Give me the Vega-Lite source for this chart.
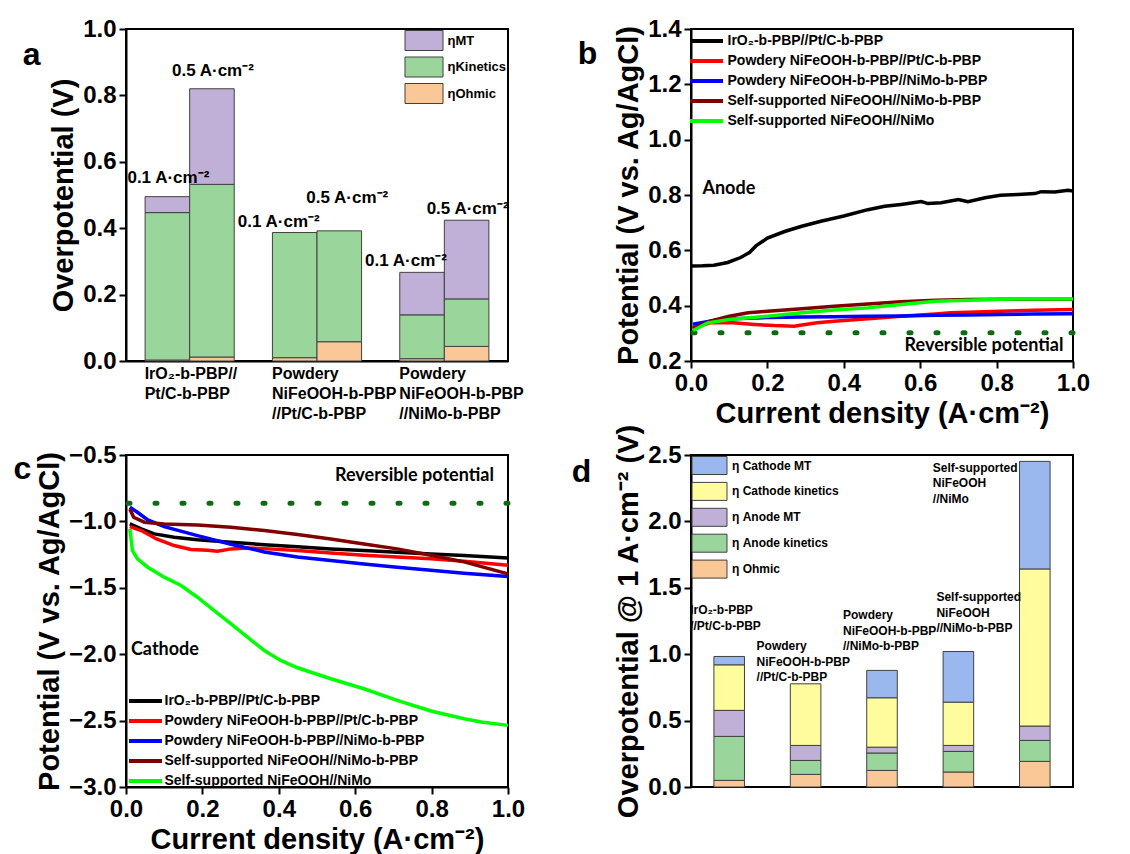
{
  "$schema": "https://vega.github.io/schema/vega-lite/v6.json",
  "background": "white",
  "padding": {"left": 12, "top": 16, "right": 5, "bottom": 0},
  "columns": 2,
  "spacing": {"row": -7, "column": 44},
  "resolve": {"scale": {"x": "independent", "y": "independent", "color": "independent", "xOffset": "independent"}, "legend": {"color": "independent"}},
  "config": {
    "font": "Liberation Sans",
    "view": {"stroke": "black", "strokeWidth": 2},
    "axis": {"grid": false, "domainColor": "black", "domainWidth": 2, "tickColor": "black", "tickWidth": 2, "labelFont": "Liberation Sans", "labelFontSize": 24, "labelFontWeight": "bold", "labelColor": "black", "labelFlush": false, "labelOverlap": false, "titleFont": "Liberation Sans", "titleFontSize": 29, "titleFontWeight": "bold", "titleColor": "black", "labelPadding": 3, "titlePadding": 4, "titleLimit": 1000, "labelLimit": 400},
    "legend": {"labelFont": "Liberation Sans", "labelFontWeight": "bold", "labelColor": "black", "labelLimit": 500},
    "title": {"font": "Liberation Sans", "fontSize": 32, "fontWeight": "bold", "color": "black", "anchor": "start", "frame": "bounds", "offset": 0}
  },
  "datasets": {
    "a": [
      {"g": "IrO₂-b-PBP//|Pt/C-b-PBP", "j": "0.1", "c": "ηOhmic", "k": 1, "v": 0.003},
      {"g": "IrO₂-b-PBP//|Pt/C-b-PBP", "j": "0.1", "c": "ηKinetics", "k": 2, "v": 0.444},
      {"g": "IrO₂-b-PBP//|Pt/C-b-PBP", "j": "0.1", "c": "ηMT", "k": 3, "v": 0.048},
      {"g": "IrO₂-b-PBP//|Pt/C-b-PBP", "j": "0.5", "c": "ηOhmic", "k": 1, "v": 0.012},
      {"g": "IrO₂-b-PBP//|Pt/C-b-PBP", "j": "0.5", "c": "ηKinetics", "k": 2, "v": 0.52},
      {"g": "IrO₂-b-PBP//|Pt/C-b-PBP", "j": "0.5", "c": "ηMT", "k": 3, "v": 0.288},
      {"g": "Powdery|NiFeOOH-b-PBP|//Pt/C-b-PBP", "j": "0.1", "c": "ηOhmic", "k": 1, "v": 0.01},
      {"g": "Powdery|NiFeOOH-b-PBP|//Pt/C-b-PBP", "j": "0.1", "c": "ηKinetics", "k": 2, "v": 0.377},
      {"g": "Powdery|NiFeOOH-b-PBP|//Pt/C-b-PBP", "j": "0.5", "c": "ηOhmic", "k": 1, "v": 0.058},
      {"g": "Powdery|NiFeOOH-b-PBP|//Pt/C-b-PBP", "j": "0.5", "c": "ηKinetics", "k": 2, "v": 0.334},
      {"g": "Powdery|NiFeOOH-b-PBP|//NiMo-b-PBP", "j": "0.1", "c": "ηOhmic", "k": 1, "v": 0.007},
      {"g": "Powdery|NiFeOOH-b-PBP|//NiMo-b-PBP", "j": "0.1", "c": "ηKinetics", "k": 2, "v": 0.132},
      {"g": "Powdery|NiFeOOH-b-PBP|//NiMo-b-PBP", "j": "0.1", "c": "ηMT", "k": 3, "v": 0.128},
      {"g": "Powdery|NiFeOOH-b-PBP|//NiMo-b-PBP", "j": "0.5", "c": "ηOhmic", "k": 1, "v": 0.044},
      {"g": "Powdery|NiFeOOH-b-PBP|//NiMo-b-PBP", "j": "0.5", "c": "ηKinetics", "k": 2, "v": 0.143},
      {"g": "Powdery|NiFeOOH-b-PBP|//NiMo-b-PBP", "j": "0.5", "c": "ηMT", "k": 3, "v": 0.237}
    ],
    "aLab": [
      {"g": "IrO₂-b-PBP//|Pt/C-b-PBP", "j": "0.1", "y": 0.552, "t": "0.1 A·cm⁻²"},
      {"g": "IrO₂-b-PBP//|Pt/C-b-PBP", "j": "0.5", "y": 0.873, "t": "0.5 A·cm⁻²"},
      {"g": "Powdery|NiFeOOH-b-PBP|//Pt/C-b-PBP", "j": "0.1", "y": 0.42, "t": "0.1 A·cm⁻²"},
      {"g": "Powdery|NiFeOOH-b-PBP|//Pt/C-b-PBP", "j": "0.5", "y": 0.491, "t": "0.5 A·cm⁻²"},
      {"g": "Powdery|NiFeOOH-b-PBP|//NiMo-b-PBP", "j": "0.1", "y": 0.301, "t": "0.1 A·cm⁻²"},
      {"g": "Powdery|NiFeOOH-b-PBP|//NiMo-b-PBP", "j": "0.5", "y": 0.458, "t": "0.5 A·cm⁻²"}
    ],
    "b": [
      {"s": "IrO₂-b-PBP//Pt/C-b-PBP", "x": 0.0, "y": 0.543},
      {"s": "IrO₂-b-PBP//Pt/C-b-PBP", "x": 0.03, "y": 0.544},
      {"s": "IrO₂-b-PBP//Pt/C-b-PBP", "x": 0.06, "y": 0.546},
      {"s": "IrO₂-b-PBP//Pt/C-b-PBP", "x": 0.096, "y": 0.556},
      {"s": "IrO₂-b-PBP//Pt/C-b-PBP", "x": 0.13, "y": 0.574},
      {"s": "IrO₂-b-PBP//Pt/C-b-PBP", "x": 0.153, "y": 0.592},
      {"s": "IrO₂-b-PBP//Pt/C-b-PBP", "x": 0.17, "y": 0.616},
      {"s": "IrO₂-b-PBP//Pt/C-b-PBP", "x": 0.2, "y": 0.644},
      {"s": "IrO₂-b-PBP//Pt/C-b-PBP", "x": 0.245, "y": 0.668},
      {"s": "IrO₂-b-PBP//Pt/C-b-PBP", "x": 0.29, "y": 0.687},
      {"s": "IrO₂-b-PBP//Pt/C-b-PBP", "x": 0.34, "y": 0.705},
      {"s": "IrO₂-b-PBP//Pt/C-b-PBP", "x": 0.4, "y": 0.724},
      {"s": "IrO₂-b-PBP//Pt/C-b-PBP", "x": 0.463, "y": 0.747},
      {"s": "IrO₂-b-PBP//Pt/C-b-PBP", "x": 0.507, "y": 0.759},
      {"s": "IrO₂-b-PBP//Pt/C-b-PBP", "x": 0.55, "y": 0.766},
      {"s": "IrO₂-b-PBP//Pt/C-b-PBP", "x": 0.603, "y": 0.776},
      {"s": "IrO₂-b-PBP//Pt/C-b-PBP", "x": 0.62, "y": 0.769},
      {"s": "IrO₂-b-PBP//Pt/C-b-PBP", "x": 0.655, "y": 0.772},
      {"s": "IrO₂-b-PBP//Pt/C-b-PBP", "x": 0.7, "y": 0.784},
      {"s": "IrO₂-b-PBP//Pt/C-b-PBP", "x": 0.725, "y": 0.776},
      {"s": "IrO₂-b-PBP//Pt/C-b-PBP", "x": 0.77, "y": 0.79},
      {"s": "IrO₂-b-PBP//Pt/C-b-PBP", "x": 0.81, "y": 0.799},
      {"s": "IrO₂-b-PBP//Pt/C-b-PBP", "x": 0.856, "y": 0.802},
      {"s": "IrO₂-b-PBP//Pt/C-b-PBP", "x": 0.9, "y": 0.805},
      {"s": "IrO₂-b-PBP//Pt/C-b-PBP", "x": 0.917, "y": 0.812},
      {"s": "IrO₂-b-PBP//Pt/C-b-PBP", "x": 0.952, "y": 0.811},
      {"s": "IrO₂-b-PBP//Pt/C-b-PBP", "x": 0.987, "y": 0.817},
      {"s": "IrO₂-b-PBP//Pt/C-b-PBP", "x": 1.0, "y": 0.814},
      {"s": "Powdery NiFeOOH-b-PBP//Pt/C-b-PBP", "x": 0.005, "y": 0.318},
      {"s": "Powdery NiFeOOH-b-PBP//Pt/C-b-PBP", "x": 0.05, "y": 0.338},
      {"s": "Powdery NiFeOOH-b-PBP//Pt/C-b-PBP", "x": 0.11, "y": 0.338},
      {"s": "Powdery NiFeOOH-b-PBP//Pt/C-b-PBP", "x": 0.166, "y": 0.332},
      {"s": "Powdery NiFeOOH-b-PBP//Pt/C-b-PBP", "x": 0.218, "y": 0.328},
      {"s": "Powdery NiFeOOH-b-PBP//Pt/C-b-PBP", "x": 0.27, "y": 0.326},
      {"s": "Powdery NiFeOOH-b-PBP//Pt/C-b-PBP", "x": 0.29, "y": 0.33},
      {"s": "Powdery NiFeOOH-b-PBP//Pt/C-b-PBP", "x": 0.33, "y": 0.338},
      {"s": "Powdery NiFeOOH-b-PBP//Pt/C-b-PBP", "x": 0.375, "y": 0.344},
      {"s": "Powdery NiFeOOH-b-PBP//Pt/C-b-PBP", "x": 0.463, "y": 0.353},
      {"s": "Powdery NiFeOOH-b-PBP//Pt/C-b-PBP", "x": 0.55, "y": 0.362},
      {"s": "Powdery NiFeOOH-b-PBP//Pt/C-b-PBP", "x": 0.64, "y": 0.37},
      {"s": "Powdery NiFeOOH-b-PBP//Pt/C-b-PBP", "x": 0.68, "y": 0.374},
      {"s": "Powdery NiFeOOH-b-PBP//Pt/C-b-PBP", "x": 0.725, "y": 0.376},
      {"s": "Powdery NiFeOOH-b-PBP//Pt/C-b-PBP", "x": 0.81, "y": 0.38},
      {"s": "Powdery NiFeOOH-b-PBP//Pt/C-b-PBP", "x": 0.9, "y": 0.383},
      {"s": "Powdery NiFeOOH-b-PBP//Pt/C-b-PBP", "x": 1.0, "y": 0.386},
      {"s": "Powdery NiFeOOH-b-PBP//NiMo-b-PBP", "x": 0.005, "y": 0.333},
      {"s": "Powdery NiFeOOH-b-PBP//NiMo-b-PBP", "x": 0.06, "y": 0.346},
      {"s": "Powdery NiFeOOH-b-PBP//NiMo-b-PBP", "x": 0.11, "y": 0.353},
      {"s": "Powdery NiFeOOH-b-PBP//NiMo-b-PBP", "x": 0.2, "y": 0.357},
      {"s": "Powdery NiFeOOH-b-PBP//NiMo-b-PBP", "x": 0.29, "y": 0.359},
      {"s": "Powdery NiFeOOH-b-PBP//NiMo-b-PBP", "x": 0.375, "y": 0.36},
      {"s": "Powdery NiFeOOH-b-PBP//NiMo-b-PBP", "x": 0.463, "y": 0.362},
      {"s": "Powdery NiFeOOH-b-PBP//NiMo-b-PBP", "x": 0.55, "y": 0.363},
      {"s": "Powdery NiFeOOH-b-PBP//NiMo-b-PBP", "x": 0.64, "y": 0.365},
      {"s": "Powdery NiFeOOH-b-PBP//NiMo-b-PBP", "x": 0.725, "y": 0.366},
      {"s": "Powdery NiFeOOH-b-PBP//NiMo-b-PBP", "x": 0.81, "y": 0.368},
      {"s": "Powdery NiFeOOH-b-PBP//NiMo-b-PBP", "x": 0.9, "y": 0.37},
      {"s": "Powdery NiFeOOH-b-PBP//NiMo-b-PBP", "x": 1.0, "y": 0.371},
      {"s": "Self-supported NiFeOOH//NiMo-b-PBP", "x": 0.005, "y": 0.318},
      {"s": "Self-supported NiFeOOH//NiMo-b-PBP", "x": 0.05, "y": 0.344},
      {"s": "Self-supported NiFeOOH//NiMo-b-PBP", "x": 0.1, "y": 0.362},
      {"s": "Self-supported NiFeOOH//NiMo-b-PBP", "x": 0.15, "y": 0.374},
      {"s": "Self-supported NiFeOOH//NiMo-b-PBP", "x": 0.2, "y": 0.38},
      {"s": "Self-supported NiFeOOH//NiMo-b-PBP", "x": 0.29, "y": 0.389},
      {"s": "Self-supported NiFeOOH//NiMo-b-PBP", "x": 0.375, "y": 0.398},
      {"s": "Self-supported NiFeOOH//NiMo-b-PBP", "x": 0.463, "y": 0.406},
      {"s": "Self-supported NiFeOOH//NiMo-b-PBP", "x": 0.55, "y": 0.414},
      {"s": "Self-supported NiFeOOH//NiMo-b-PBP", "x": 0.64, "y": 0.42},
      {"s": "Self-supported NiFeOOH//NiMo-b-PBP", "x": 0.725, "y": 0.422},
      {"s": "Self-supported NiFeOOH//NiMo-b-PBP", "x": 0.81, "y": 0.423},
      {"s": "Self-supported NiFeOOH//NiMo-b-PBP", "x": 0.9, "y": 0.423},
      {"s": "Self-supported NiFeOOH//NiMo-b-PBP", "x": 1.0, "y": 0.423},
      {"s": "Self-supported NiFeOOH//NiMo", "x": 0.005, "y": 0.31},
      {"s": "Self-supported NiFeOOH//NiMo", "x": 0.044, "y": 0.338},
      {"s": "Self-supported NiFeOOH//NiMo", "x": 0.1, "y": 0.35},
      {"s": "Self-supported NiFeOOH//NiMo", "x": 0.2, "y": 0.362},
      {"s": "Self-supported NiFeOOH//NiMo", "x": 0.29, "y": 0.374},
      {"s": "Self-supported NiFeOOH//NiMo", "x": 0.375, "y": 0.384},
      {"s": "Self-supported NiFeOOH//NiMo", "x": 0.463, "y": 0.392},
      {"s": "Self-supported NiFeOOH//NiMo", "x": 0.55, "y": 0.404},
      {"s": "Self-supported NiFeOOH//NiMo", "x": 0.64, "y": 0.416},
      {"s": "Self-supported NiFeOOH//NiMo", "x": 0.725, "y": 0.42},
      {"s": "Self-supported NiFeOOH//NiMo", "x": 0.81, "y": 0.423},
      {"s": "Self-supported NiFeOOH//NiMo", "x": 0.9, "y": 0.425},
      {"s": "Self-supported NiFeOOH//NiMo", "x": 1.0, "y": 0.424}
    ],
    "c": [
      {"s": "IrO₂-b-PBP//Pt/C-b-PBP", "x": 0.01, "y": -1.019},
      {"s": "IrO₂-b-PBP//Pt/C-b-PBP", "x": 0.04, "y": -1.057},
      {"s": "IrO₂-b-PBP//Pt/C-b-PBP", "x": 0.074, "y": -1.094},
      {"s": "IrO₂-b-PBP//Pt/C-b-PBP", "x": 0.126, "y": -1.119},
      {"s": "IrO₂-b-PBP//Pt/C-b-PBP", "x": 0.187, "y": -1.139},
      {"s": "IrO₂-b-PBP//Pt/C-b-PBP", "x": 0.275, "y": -1.157},
      {"s": "IrO₂-b-PBP//Pt/C-b-PBP", "x": 0.362, "y": -1.175},
      {"s": "IrO₂-b-PBP//Pt/C-b-PBP", "x": 0.449, "y": -1.19},
      {"s": "IrO₂-b-PBP//Pt/C-b-PBP", "x": 0.536, "y": -1.207},
      {"s": "IrO₂-b-PBP//Pt/C-b-PBP", "x": 0.623, "y": -1.22},
      {"s": "IrO₂-b-PBP//Pt/C-b-PBP", "x": 0.71, "y": -1.232},
      {"s": "IrO₂-b-PBP//Pt/C-b-PBP", "x": 0.798, "y": -1.245},
      {"s": "IrO₂-b-PBP//Pt/C-b-PBP", "x": 0.885, "y": -1.257},
      {"s": "IrO₂-b-PBP//Pt/C-b-PBP", "x": 1.0, "y": -1.275},
      {"s": "Powdery NiFeOOH-b-PBP//Pt/C-b-PBP", "x": 0.01, "y": -1.04},
      {"s": "Powdery NiFeOOH-b-PBP//Pt/C-b-PBP", "x": 0.04, "y": -1.069},
      {"s": "Powdery NiFeOOH-b-PBP//Pt/C-b-PBP", "x": 0.08, "y": -1.132},
      {"s": "Powdery NiFeOOH-b-PBP//Pt/C-b-PBP", "x": 0.126, "y": -1.182},
      {"s": "Powdery NiFeOOH-b-PBP//Pt/C-b-PBP", "x": 0.17, "y": -1.212},
      {"s": "Powdery NiFeOOH-b-PBP//Pt/C-b-PBP", "x": 0.214, "y": -1.218},
      {"s": "Powdery NiFeOOH-b-PBP//Pt/C-b-PBP", "x": 0.24, "y": -1.225},
      {"s": "Powdery NiFeOOH-b-PBP//Pt/C-b-PBP", "x": 0.275, "y": -1.207},
      {"s": "Powdery NiFeOOH-b-PBP//Pt/C-b-PBP", "x": 0.318, "y": -1.2},
      {"s": "Powdery NiFeOOH-b-PBP//Pt/C-b-PBP", "x": 0.362, "y": -1.205},
      {"s": "Powdery NiFeOOH-b-PBP//Pt/C-b-PBP", "x": 0.449, "y": -1.22},
      {"s": "Powdery NiFeOOH-b-PBP//Pt/C-b-PBP", "x": 0.536, "y": -1.238},
      {"s": "Powdery NiFeOOH-b-PBP//Pt/C-b-PBP", "x": 0.623, "y": -1.255},
      {"s": "Powdery NiFeOOH-b-PBP//Pt/C-b-PBP", "x": 0.71, "y": -1.268},
      {"s": "Powdery NiFeOOH-b-PBP//Pt/C-b-PBP", "x": 0.798, "y": -1.282},
      {"s": "Powdery NiFeOOH-b-PBP//Pt/C-b-PBP", "x": 0.885, "y": -1.3},
      {"s": "Powdery NiFeOOH-b-PBP//Pt/C-b-PBP", "x": 1.0, "y": -1.33},
      {"s": "Powdery NiFeOOH-b-PBP//NiMo-b-PBP", "x": 0.01, "y": -0.894},
      {"s": "Powdery NiFeOOH-b-PBP//NiMo-b-PBP", "x": 0.03, "y": -0.931},
      {"s": "Powdery NiFeOOH-b-PBP//NiMo-b-PBP", "x": 0.057, "y": -0.989},
      {"s": "Powdery NiFeOOH-b-PBP//NiMo-b-PBP", "x": 0.1, "y": -1.039},
      {"s": "Powdery NiFeOOH-b-PBP//NiMo-b-PBP", "x": 0.187, "y": -1.107},
      {"s": "Powdery NiFeOOH-b-PBP//NiMo-b-PBP", "x": 0.275, "y": -1.172},
      {"s": "Powdery NiFeOOH-b-PBP//NiMo-b-PBP", "x": 0.362, "y": -1.23},
      {"s": "Powdery NiFeOOH-b-PBP//NiMo-b-PBP", "x": 0.449, "y": -1.268},
      {"s": "Powdery NiFeOOH-b-PBP//NiMo-b-PBP", "x": 0.536, "y": -1.295},
      {"s": "Powdery NiFeOOH-b-PBP//NiMo-b-PBP", "x": 0.623, "y": -1.32},
      {"s": "Powdery NiFeOOH-b-PBP//NiMo-b-PBP", "x": 0.71, "y": -1.345},
      {"s": "Powdery NiFeOOH-b-PBP//NiMo-b-PBP", "x": 0.798, "y": -1.368},
      {"s": "Powdery NiFeOOH-b-PBP//NiMo-b-PBP", "x": 0.885, "y": -1.39},
      {"s": "Powdery NiFeOOH-b-PBP//NiMo-b-PBP", "x": 1.0, "y": -1.415},
      {"s": "Self-supported NiFeOOH//NiMo-b-PBP", "x": 0.01, "y": -0.906},
      {"s": "Self-supported NiFeOOH//NiMo-b-PBP", "x": 0.02, "y": -0.969},
      {"s": "Self-supported NiFeOOH//NiMo-b-PBP", "x": 0.048, "y": -1.006},
      {"s": "Self-supported NiFeOOH//NiMo-b-PBP", "x": 0.1, "y": -1.019},
      {"s": "Self-supported NiFeOOH//NiMo-b-PBP", "x": 0.187, "y": -1.027},
      {"s": "Self-supported NiFeOOH//NiMo-b-PBP", "x": 0.275, "y": -1.044},
      {"s": "Self-supported NiFeOOH//NiMo-b-PBP", "x": 0.362, "y": -1.069},
      {"s": "Self-supported NiFeOOH//NiMo-b-PBP", "x": 0.449, "y": -1.099},
      {"s": "Self-supported NiFeOOH//NiMo-b-PBP", "x": 0.536, "y": -1.132},
      {"s": "Self-supported NiFeOOH//NiMo-b-PBP", "x": 0.623, "y": -1.17},
      {"s": "Self-supported NiFeOOH//NiMo-b-PBP", "x": 0.71, "y": -1.207},
      {"s": "Self-supported NiFeOOH//NiMo-b-PBP", "x": 0.798, "y": -1.255},
      {"s": "Self-supported NiFeOOH//NiMo-b-PBP", "x": 0.885, "y": -1.305},
      {"s": "Self-supported NiFeOOH//NiMo-b-PBP", "x": 1.0, "y": -1.395},
      {"s": "Self-supported NiFeOOH//NiMo", "x": 0.01, "y": -1.057},
      {"s": "Self-supported NiFeOOH//NiMo", "x": 0.017, "y": -1.22},
      {"s": "Self-supported NiFeOOH//NiMo", "x": 0.03, "y": -1.282},
      {"s": "Self-supported NiFeOOH//NiMo", "x": 0.057, "y": -1.345},
      {"s": "Self-supported NiFeOOH//NiMo", "x": 0.1, "y": -1.42},
      {"s": "Self-supported NiFeOOH//NiMo", "x": 0.144, "y": -1.483},
      {"s": "Self-supported NiFeOOH//NiMo", "x": 0.187, "y": -1.571},
      {"s": "Self-supported NiFeOOH//NiMo", "x": 0.231, "y": -1.671},
      {"s": "Self-supported NiFeOOH//NiMo", "x": 0.275, "y": -1.771},
      {"s": "Self-supported NiFeOOH//NiMo", "x": 0.318, "y": -1.872},
      {"s": "Self-supported NiFeOOH//NiMo", "x": 0.362, "y": -1.972},
      {"s": "Self-supported NiFeOOH//NiMo", "x": 0.405, "y": -2.047},
      {"s": "Self-supported NiFeOOH//NiMo", "x": 0.449, "y": -2.102},
      {"s": "Self-supported NiFeOOH//NiMo", "x": 0.536, "y": -2.185},
      {"s": "Self-supported NiFeOOH//NiMo", "x": 0.623, "y": -2.26},
      {"s": "Self-supported NiFeOOH//NiMo", "x": 0.71, "y": -2.348},
      {"s": "Self-supported NiFeOOH//NiMo", "x": 0.798, "y": -2.428},
      {"s": "Self-supported NiFeOOH//NiMo", "x": 0.885, "y": -2.486},
      {"s": "Self-supported NiFeOOH//NiMo", "x": 0.93, "y": -2.511},
      {"s": "Self-supported NiFeOOH//NiMo", "x": 1.0, "y": -2.536}
    ],
    "d": [
      {"cat": "IrO₂-b-PBP|//Pt/C-b-PBP", "c": "η Ohmic", "k": 1, "v": 0.05},
      {"cat": "IrO₂-b-PBP|//Pt/C-b-PBP", "c": "η Anode kinetics", "k": 2, "v": 0.331},
      {"cat": "IrO₂-b-PBP|//Pt/C-b-PBP", "c": "η Anode MT", "k": 3, "v": 0.196},
      {"cat": "IrO₂-b-PBP|//Pt/C-b-PBP", "c": "η Cathode kinetics", "k": 4, "v": 0.343},
      {"cat": "IrO₂-b-PBP|//Pt/C-b-PBP", "c": "η Cathode MT", "k": 5, "v": 0.063},
      {"cat": "Powdery|NiFeOOH-b-PBP|//Pt/C-b-PBP", "c": "η Ohmic", "k": 1, "v": 0.095},
      {"cat": "Powdery|NiFeOOH-b-PBP|//Pt/C-b-PBP", "c": "η Anode kinetics", "k": 2, "v": 0.105},
      {"cat": "Powdery|NiFeOOH-b-PBP|//Pt/C-b-PBP", "c": "η Anode MT", "k": 3, "v": 0.113},
      {"cat": "Powdery|NiFeOOH-b-PBP|//Pt/C-b-PBP", "c": "η Cathode kinetics", "k": 4, "v": 0.464},
      {"cat": "Powdery|NiFeOOH-b-PBP|//NiMo-b-PBP", "c": "η Ohmic", "k": 1, "v": 0.125},
      {"cat": "Powdery|NiFeOOH-b-PBP|//NiMo-b-PBP", "c": "η Anode kinetics", "k": 2, "v": 0.131},
      {"cat": "Powdery|NiFeOOH-b-PBP|//NiMo-b-PBP", "c": "η Anode MT", "k": 3, "v": 0.044},
      {"cat": "Powdery|NiFeOOH-b-PBP|//NiMo-b-PBP", "c": "η Cathode kinetics", "k": 4, "v": 0.372},
      {"cat": "Powdery|NiFeOOH-b-PBP|//NiMo-b-PBP", "c": "η Cathode MT", "k": 5, "v": 0.206},
      {"cat": "Self-supported|NiFeOOH|//NiMo-b-PBP", "c": "η Ohmic", "k": 1, "v": 0.113},
      {"cat": "Self-supported|NiFeOOH|//NiMo-b-PBP", "c": "η Anode kinetics", "k": 2, "v": 0.155},
      {"cat": "Self-supported|NiFeOOH|//NiMo-b-PBP", "c": "η Anode MT", "k": 3, "v": 0.045},
      {"cat": "Self-supported|NiFeOOH|//NiMo-b-PBP", "c": "η Cathode kinetics", "k": 4, "v": 0.326},
      {"cat": "Self-supported|NiFeOOH|//NiMo-b-PBP", "c": "η Cathode MT", "k": 5, "v": 0.381},
      {"cat": "Self-supported|NiFeOOH|//NiMo", "c": "η Ohmic", "k": 1, "v": 0.193},
      {"cat": "Self-supported|NiFeOOH|//NiMo", "c": "η Anode kinetics", "k": 2, "v": 0.158},
      {"cat": "Self-supported|NiFeOOH|//NiMo", "c": "η Anode MT", "k": 3, "v": 0.108},
      {"cat": "Self-supported|NiFeOOH|//NiMo", "c": "η Cathode kinetics", "k": 4, "v": 1.183},
      {"cat": "Self-supported|NiFeOOH|//NiMo", "c": "η Cathode MT", "k": 5, "v": 0.81}
    ],
    "dLab": [
      {"cat": "IrO₂-b-PBP|//Pt/C-b-PBP", "y": 1.367},
      {"cat": "Powdery|NiFeOOH-b-PBP|//Pt/C-b-PBP", "y": 1.099},
      {"cat": "Powdery|NiFeOOH-b-PBP|//NiMo-b-PBP", "y": 1.33},
      {"cat": "Self-supported|NiFeOOH|//NiMo-b-PBP", "y": 1.467},
      {"cat": "Self-supported|NiFeOOH|//NiMo", "y": 2.441}
    ]
  },
  "concat": [
    {
      "width": 382, "height": 332,
      "title": {"text": "a", "dx": -27, "dy": 59},
      "layer": [
        {
          "data": {"name": "a"},
          "mark": {"type": "bar", "stroke": "#404040", "strokeWidth": 1},
          "encoding": {
            "x": {"field": "g", "type": "nominal", "sort": null, "title": null,
                  "scale": {"paddingInner": 0.3, "paddingOuter": 0.15},
                  "axis": {"labelExpr": "split(datum.label, '|')", "labelAlign": "left", "labelOffset": -45, "labelBaseline": "top", "labelFontSize": 16, "labelLineHeight": 20, "labelAngle": 0, "ticks": false, "labelPadding": 4}},
            "xOffset": {"field": "j", "type": "nominal", "scale": {"paddingInner": 0, "paddingOuter": 0}},
            "y": {"field": "v", "type": "quantitative", "stack": "zero", "scale": {"domain": [0, 1], "nice": false},
                  "axis": {"title": "Overpotential (V)", "values": [0, 0.1, 0.2, 0.3, 0.4, 0.5, 0.6, 0.7, 0.8, 0.9, 1.0], "format": ".1f",
                           "labelExpr": "abs(datum.value*5-round(datum.value*5))<1e-6 ? datum.label : ''",
                           "tickSize": {"condition": {"test": "abs(datum.value*5-round(datum.value*5))<1e-6", "value": 7}, "value": 4}}},
            "color": {"field": "c", "type": "nominal",
                      "scale": {"domain": ["ηMT", "ηKinetics", "ηOhmic"], "range": ["#C0AFD6", "#9AD69B", "#FAC796"]},
                      "legend": {"title": null, "orient": "top-right", "offset": 1, "symbolType": "M-1.9,-1H1.9V1H-1.9Z", "symbolSize": 400, "symbolOffset": 8.5, "symbolStrokeColor": "#404040", "symbolStrokeWidth": 1, "labelFontSize": 13, "labelOffset": 13, "rowPadding": 1.5}},
            "order": {"field": "k", "type": "quantitative"}
          }
        },
        {
          "data": {"name": "aLab"},
          "transform": [{"filter": "datum.g[0]=='I' || (datum.j=='0.5' && indexof(datum.g,'NiMo')>=0)"}],
          "mark": {"type": "text", "fontSize": 17, "fontWeight": "bold", "color": "black", "baseline": "middle", "dx": 1},
          "encoding": {
            "x": {"field": "g", "type": "nominal", "sort": null},
            "xOffset": {"field": "j", "type": "nominal"},
            "y": {"field": "y", "type": "quantitative"},
            "text": {"field": "t"}
          }
        },
        {
          "data": {"name": "aLab"},
          "transform": [{"filter": "datum.j=='0.1' && datum.g[0]=='P'"}],
          "mark": {"type": "text", "fontSize": 17, "fontWeight": "bold", "color": "black", "baseline": "middle", "dx": -16},
          "encoding": {
            "x": {"field": "g", "type": "nominal", "sort": null},
            "xOffset": {"field": "j", "type": "nominal"},
            "y": {"field": "y", "type": "quantitative"},
            "text": {"field": "t"}
          }
        },
        {
          "data": {"name": "aLab"},
          "transform": [{"filter": "datum.j=='0.5' && datum.g=='Powdery|NiFeOOH-b-PBP|//Pt/C-b-PBP'"}],
          "mark": {"type": "text", "fontSize": 17, "fontWeight": "bold", "color": "black", "baseline": "middle", "dx": 8},
          "encoding": {
            "x": {"field": "g", "type": "nominal", "sort": null},
            "xOffset": {"field": "j", "type": "nominal"},
            "y": {"field": "y", "type": "quantitative"},
            "text": {"field": "t"}
          }
        }
      ]
    },
    {
      "width": 382, "height": 332,
      "title": {"text": "b", "dx": -37, "dy": 58},
      "layer": [
        {
          "data": {"values": [{"y": 0.302}]},
          "mark": {"type": "rule", "color": "#0F6B12", "strokeWidth": 5, "strokeDash": [2, 25], "strokeCap": "round"},
          "encoding": {"y": {"field": "y", "type": "quantitative"}}
        },
        {
          "data": {"name": "b"},
          "mark": {"type": "line", "strokeWidth": 3.5},
          "encoding": {
            "x": {"field": "x", "type": "quantitative", "scale": {"domain": [0, 1], "nice": false},
                  "axis": {"title": "Current density (A·cm⁻²)", "values": [0, 0.1, 0.2, 0.3, 0.4, 0.5, 0.6, 0.7, 0.8, 0.9, 1.0], "format": ".1f",
                           "labelExpr": "abs(datum.value*5-round(datum.value*5))<1e-6 ? datum.label : ''",
                           "tickSize": {"condition": {"test": "abs(datum.value*5-round(datum.value*5))<1e-6", "value": 7}, "value": 4}}},
            "y": {"field": "y", "type": "quantitative", "scale": {"domain": [0.2, 1.4], "nice": false, "zero": false},
                  "axis": {"title": "Potential (V vs. Ag/AgCl)", "values": [0.2, 0.3, 0.4, 0.5, 0.6, 0.7, 0.8, 0.9, 1.0, 1.1, 1.2, 1.3, 1.4], "format": ".1f",
                           "labelExpr": "abs(datum.value*5-round(datum.value*5))<1e-6 ? datum.label : ''",
                           "tickSize": {"condition": {"test": "abs(datum.value*5-round(datum.value*5))<1e-6", "value": 7}, "value": 4}}},
            "color": {"field": "s", "type": "nominal",
                      "scale": {"domain": ["IrO₂-b-PBP//Pt/C-b-PBP", "Powdery NiFeOOH-b-PBP//Pt/C-b-PBP", "Powdery NiFeOOH-b-PBP//NiMo-b-PBP", "Self-supported NiFeOOH//NiMo-b-PBP", "Self-supported NiFeOOH//NiMo"],
                                "range": ["#000000", "#FF0000", "#0000FF", "#800000", "#00FF00"]},
                      "legend": {"title": null, "orient": "top-left", "offset": 0, "symbolType": "M-1.65,0H1.65", "symbolSize": 400, "symbolOffset": 3.5, "symbolStrokeWidth": 4, "labelFontSize": 14, "labelOffset": 9, "rowPadding": -5}}
          }
        },
        {
          "data": {"values": [{"x": 0.03, "y": 0.82, "t": "Anode"}]},
          "mark": {"type": "text", "font": "Lato", "fontWeight": "bold", "fontSize": 18, "align": "left", "baseline": "middle", "color": "black"},
          "encoding": {"x": {"field": "x", "type": "quantitative"}, "y": {"field": "y", "type": "quantitative"}, "text": {"field": "t"}}
        },
        {
          "data": {"values": [{"x": 0.975, "y": 0.255, "t": "Reversible potential"}]},
          "mark": {"type": "text", "font": "Lato", "fontWeight": "bold", "fontSize": 18, "align": "right", "baseline": "middle", "color": "black"},
          "encoding": {"x": {"field": "x", "type": "quantitative"}, "y": {"field": "y", "type": "quantitative"}, "text": {"field": "t"}}
        }
      ]
    },
    {
      "width": 382, "height": 332,
      "title": {"text": "c", "dx": -22, "dy": 47},
      "layer": [
        {
          "data": {"values": [{"y": -0.864}]},
          "mark": {"type": "rule", "color": "#0F6B12", "strokeWidth": 5, "strokeDash": [2, 25], "strokeCap": "round"},
          "encoding": {"y": {"field": "y", "type": "quantitative"}}
        },
        {
          "data": {"name": "c"},
          "mark": {"type": "line", "strokeWidth": 3.5},
          "encoding": {
            "x": {"field": "x", "type": "quantitative", "scale": {"domain": [0, 1], "nice": false},
                  "axis": {"title": "Current density (A·cm⁻²)", "values": [0, 0.1, 0.2, 0.3, 0.4, 0.5, 0.6, 0.7, 0.8, 0.9, 1.0], "format": ".1f",
                           "labelExpr": "abs(datum.value*5-round(datum.value*5))<1e-6 ? datum.label : ''",
                           "tickSize": {"condition": {"test": "abs(datum.value*5-round(datum.value*5))<1e-6", "value": 7}, "value": 4}}},
            "y": {"field": "y", "type": "quantitative", "scale": {"domain": [-3, -0.5], "nice": false, "zero": false},
                  "axis": {"title": "Potential (V vs. Ag/AgCl)", "values": [-3, -2.75, -2.5, -2.25, -2, -1.75, -1.5, -1.25, -1, -0.75, -0.5], "format": ".1f",
                           "labelExpr": "abs(datum.value*2-round(datum.value*2))<1e-6 ? datum.label : ''",
                           "tickSize": {"condition": {"test": "abs(datum.value*2-round(datum.value*2))<1e-6", "value": 7}, "value": 4}}},
            "color": {"field": "s", "type": "nominal",
                      "scale": {"domain": ["IrO₂-b-PBP//Pt/C-b-PBP", "Powdery NiFeOOH-b-PBP//Pt/C-b-PBP", "Powdery NiFeOOH-b-PBP//NiMo-b-PBP", "Self-supported NiFeOOH//NiMo-b-PBP", "Self-supported NiFeOOH//NiMo"],
                                "range": ["#000000", "#FF0000", "#0000FF", "#800000", "#00FF00"]},
                      "legend": {"title": null, "orient": "bottom-left", "offset": -2, "symbolType": "M-1.65,0H1.65", "symbolSize": 400, "symbolOffset": 9.5, "symbolStrokeWidth": 4, "labelFontSize": 14, "labelOffset": 7, "rowPadding": -5}}
          }
        },
        {
          "data": {"values": [{"x": 0.013, "y": -1.97, "t": "Cathode"}]},
          "mark": {"type": "text", "font": "Lato", "fontWeight": "bold", "fontSize": 18, "align": "left", "baseline": "middle", "color": "black"},
          "encoding": {"x": {"field": "x", "type": "quantitative"}, "y": {"field": "y", "type": "quantitative"}, "text": {"field": "t"}}
        },
        {
          "data": {"values": [{"x": 0.963, "y": -0.655, "t": "Reversible potential"}]},
          "mark": {"type": "text", "font": "Lato", "fontWeight": "bold", "fontSize": 18, "align": "right", "baseline": "middle", "color": "black"},
          "encoding": {"x": {"field": "x", "type": "quantitative"}, "y": {"field": "y", "type": "quantitative"}, "text": {"field": "t"}}
        }
      ]
    },
    {
      "width": 382, "height": 332,
      "title": {"text": "d", "dx": -43, "dy": 69},
      "layer": [
        {
          "data": {"name": "d"},
          "mark": {"type": "bar", "stroke": "#404040", "strokeWidth": 1},
          "encoding": {
            "x": {"field": "cat", "type": "nominal", "sort": null, "axis": null, "scale": {"paddingInner": 0.6, "paddingOuter": 0.3}},
            "y": {"field": "v", "type": "quantitative", "stack": "zero", "scale": {"domain": [0, 2.5], "nice": false},
                  "axis": {"title": "Overpotential @ 1 A·cm⁻² (V)", "values": [0, 0.25, 0.5, 0.75, 1, 1.25, 1.5, 1.75, 2, 2.25, 2.5], "format": ".1f",
                           "labelExpr": "abs(datum.value*2-round(datum.value*2))<1e-6 ? datum.label : ''",
                           "tickSize": {"condition": {"test": "abs(datum.value*2-round(datum.value*2))<1e-6", "value": 7}, "value": 4}}},
            "color": {"field": "c", "type": "nominal",
                      "scale": {"domain": ["η Cathode MT", "η Cathode kinetics", "η Anode MT", "η Anode kinetics", "η Ohmic"], "range": ["#9BB8EE", "#FEFC9C", "#C0AFD6", "#9AD69B", "#FAC796"]},
                      "legend": {"title": null, "orient": "top-left", "offset": 1, "symbolType": "M-1.944,-1H1.944V1H-1.944Z", "symbolSize": 324, "symbolOffset": 8, "symbolStrokeColor": "#404040", "symbolStrokeWidth": 1, "labelFontSize": 12, "labelOffset": 13, "rowPadding": 2.9}},
            "order": {"field": "k", "type": "quantitative"}
          }
        },
        {
          "data": {"name": "dLab"},
          "transform": [{"filter": {"field": "cat", "oneOf": ["IrO₂-b-PBP|//Pt/C-b-PBP", "Powdery|NiFeOOH-b-PBP|//NiMo-b-PBP"]}}],
          "mark": {"type": "text", "fontSize": 12, "fontWeight": "bold", "color": "black", "align": "left", "baseline": "top", "lineBreak": "|", "lineHeight": 15.5, "dx": -39},
          "encoding": {"x": {"field": "cat", "type": "nominal", "sort": null}, "y": {"field": "y", "type": "quantitative"}, "text": {"field": "cat"}}
        },
        {
          "data": {"name": "dLab"},
          "transform": [{"filter": {"field": "cat", "oneOf": ["Powdery|NiFeOOH-b-PBP|//Pt/C-b-PBP"]}}],
          "mark": {"type": "text", "fontSize": 12, "fontWeight": "bold", "color": "black", "align": "left", "baseline": "top", "lineBreak": "|", "lineHeight": 15.5, "dx": -49},
          "encoding": {"x": {"field": "cat", "type": "nominal", "sort": null}, "y": {"field": "y", "type": "quantitative"}, "text": {"field": "cat"}}
        },
        {
          "data": {"name": "dLab"},
          "transform": [{"filter": {"field": "cat", "oneOf": ["Self-supported|NiFeOOH|//NiMo-b-PBP"]}}],
          "mark": {"type": "text", "fontSize": 12, "fontWeight": "bold", "color": "black", "align": "left", "baseline": "top", "lineBreak": "|", "lineHeight": 15.5, "dx": -22},
          "encoding": {"x": {"field": "cat", "type": "nominal", "sort": null}, "y": {"field": "y", "type": "quantitative"}, "text": {"field": "cat"}}
        },
        {
          "data": {"name": "dLab"},
          "transform": [{"filter": {"field": "cat", "oneOf": ["Self-supported|NiFeOOH|//NiMo"]}}],
          "mark": {"type": "text", "fontSize": 12, "fontWeight": "bold", "color": "black", "align": "left", "baseline": "top", "lineBreak": "|", "lineHeight": 15.5, "dx": -102},
          "encoding": {"x": {"field": "cat", "type": "nominal", "sort": null}, "y": {"field": "y", "type": "quantitative"}, "text": {"field": "cat"}}
        }
      ]
    }
  ]
}
